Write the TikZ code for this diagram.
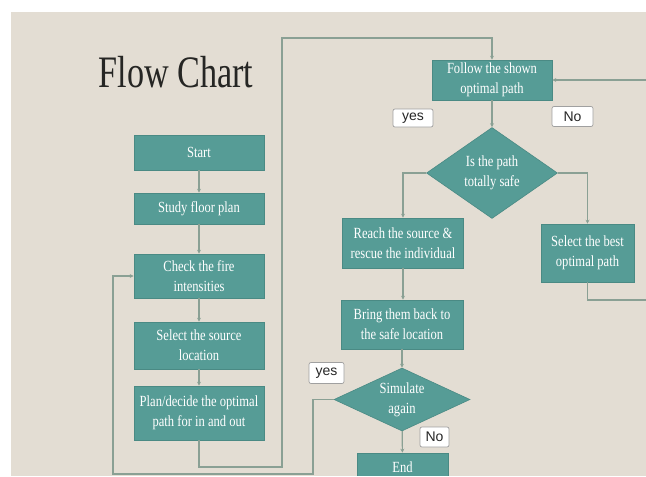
\documentclass[tikz,border=0pt]{standalone}
\usepackage{fontspec}
\setmainfont{Liberation Serif}
\newfontfamily\boxfont[FakeStretch=0.81]{Liberation Serif}
\newfontfamily\titlefont[FakeStretch=0.76]{Liberation Serif}
\newfontfamily\lblfont{Liberation Sans}
\usetikzlibrary{shapes.geometric,arrows.meta}
\definecolor{bgc}{RGB}{227,221,211}
\definecolor{tealc}{RGB}{86,156,150}
\definecolor{tealb}{RGB}{74,138,132}
\definecolor{linec}{RGB}{138,160,148}
\definecolor{lblb}{RGB}{160,160,160}
\definecolor{titlec}{RGB}{38,38,36}
\begin{document}
\begin{tikzpicture}[x=1pt,y=-1pt,
  procbox/.style={rectangle, fill=tealc, draw=tealb, line width=0.6pt, text=white,
    font=\boxfont\fontsize{15.5}{20}\selectfont, align=center, inner sep=0pt},
  decbox/.style={diamond, fill=tealc, draw=tealb, line width=0.6pt, text=white,
    font=\boxfont\fontsize{15.5}{20}\selectfont, align=center, inner sep=0pt},
  lbl/.style={rectangle, rounded corners=2pt, fill=white, draw=lblb, line width=0.7pt,
    font=\lblfont\fontsize{14}{16}\selectfont, inner sep=0pt, text=black!85},
  conn/.style={draw=linec, line width=1.2pt},
  arr/.style={conn, -{Stealth[length=4pt,width=4pt]}}
]
\useasboundingbox (0,0) rectangle (646,477);
\fill[white] (0,0) rectangle (646,477);
\fill[bgc] (11,12) rectangle (646,475.5);
\begin{scope}
\clip (11,12) rectangle (646,475.5);

\node[anchor=base, text=titlec, font=\titlefont\fontsize{45}{50}\selectfont] (title) at (176,87) {Flow Chart};

% left column
\node[procbox, minimum width=130pt, minimum height=35pt] (start) at (199,152.5) {Start};
\node[procbox, minimum width=130pt, minimum height=31pt] (study) at (199,208.5) {Study floor plan};
\node[procbox, minimum width=130pt, minimum height=44pt] (check) at (199,276) {Check the fire\\intensities};
\node[procbox, minimum width=130pt, minimum height=47pt] (select) at (199,345.5) {Select the source\\location};
\node[procbox, minimum width=130pt, minimum height=54pt] (plan) at (199,413) {Plan/decide the optimal\\path for in and out};

% right part
\node[procbox, minimum width=120pt, minimum height=40pt] (follow) at (492,80) {Follow the shown\\optimal path};
\node[decbox, minimum width=131pt, minimum height=91pt, aspect=1.44] (safe) at (492,173) {Is the path\\totally safe};
\node[procbox, minimum width=121pt, minimum height=50pt] (reach) at (403,243) {Reach the source \&\\rescue the individual};
\node[procbox, minimum width=93pt, minimum height=58pt] (selbest) at (587.5,253) {Select the best\\optimal path};
\node[procbox, minimum width=122pt, minimum height=49pt] (bring) at (402,324.5) {Bring them back to\\the safe location};
\node[decbox, minimum width=136pt, minimum height=63pt, aspect=2.16] (sim) at (402,399.5) {Simulate\\again};
\node[procbox, minimum width=91pt, minimum height=28pt] (end) at (402.5,467) {End};

% labels
\node[lbl, minimum width=40pt, minimum height=18pt] (yes1) at (413,118) {yes};
\node[lbl, minimum width=41pt, minimum height=20pt] (no1) at (572.5,116.5) {No};
\node[lbl, minimum width=35pt, minimum height=21pt] (yes2) at (326.5,373) {yes};
\node[lbl, minimum width=29pt, minimum height=20pt] (no2) at (434.5,437) {No};

% coordinates
\coordinate (p2) at (282,467);
\coordinate (p3) at (282,38);
\coordinate (r1) at (670,300);
\coordinate (r2) at (670,80);
\coordinate (l1) at (313,474);
\coordinate (l2) at (113,474);

% connectors
\draw[arr] (start) -- (study);
\draw[arr] (study) -- (check);
\draw[arr] (check) -- (select);
\draw[arr] (select) -- (plan);
\draw[arr] (plan.south) |- (p2) -- (p3) -| (follow.north);
\draw[arr] (follow) -- (safe);
\draw[arr] (safe.west) -| (reach.north);
\draw[arr] (safe.east) -| (selbest.north);
\draw[arr] (reach.south) -- (reach.south |- bring.north);
\draw[arr] (bring) -- (sim);
\draw[arr] (sim) -- (end);
\draw[arr] (selbest.south) |- (r1) -- (r2) -- (follow.east);
\draw[arr] (sim.west) -| (l1) -- (l2) |- (check.west);
\end{scope}
\end{tikzpicture}
\end{document}
